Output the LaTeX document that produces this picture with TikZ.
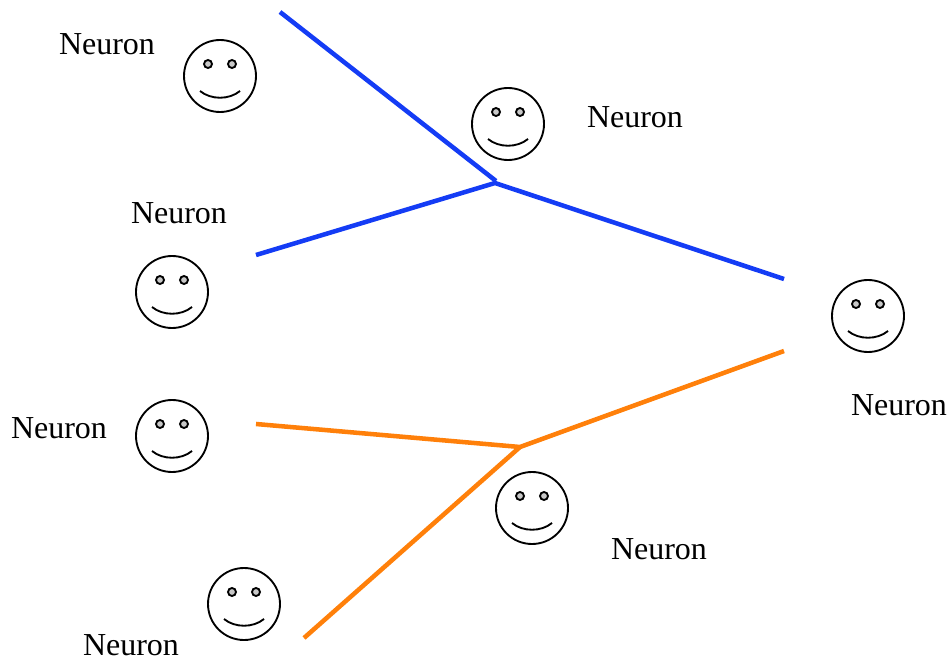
\documentclass[tikz,border=0pt]{standalone}
\usepackage{fontspec}
\setmainfont{Liberation Serif}
\definecolor{wireblue}{RGB}{20,60,245}
\definecolor{wireorange}{RGB}{255,128,10}
\definecolor{eyegray}{RGB}{200,200,200}
\tikzset{x=0.75pt,y=-0.75pt,
 lbl/.style={inner sep=0pt,font=\fontsize{24}{26}\selectfont},
 bluewire/.style={line width=3.4pt,draw=wireblue},
 orangewire/.style={line width=3.4pt,draw=wireorange},
 smile/.pic={
  \draw[line width=1.4pt] (0,0) circle[radius=36];
  \draw[line width=1.4pt,fill=eyegray] (-12,-12) circle[radius=4];
  \draw[line width=1.4pt,fill=eyegray] (12,-12) circle[radius=4];
  \draw[line width=1.4pt] (-20,15) .. controls (-9,24) and (9,24) .. (20,15);
 }}
\begin{document}
\begin{tikzpicture}
\useasboundingbox (0,0) rectangle (949,659);
\pic at (220,76) {smile};
\pic at (508,124) {smile};
\pic at (172,292) {smile};
\pic at (172,436) {smile};
\pic at (868,316) {smile};
\pic at (532,508) {smile};
\pic at (244,604) {smile};
\node[lbl] (n1) at (107,44) {Neuron};
\node[lbl] (n2) at (635,117) {Neuron};
\node[lbl] (n3) at (179,213) {Neuron};
\node[lbl] (n4) at (59,428) {Neuron};
\node[lbl] (n5) at (899,405) {Neuron};
\node[lbl] (n6) at (659,549) {Neuron};
\node[lbl] (n7) at (131,645) {Neuron};
\coordinate (b0) at (280,12);
\coordinate (b1) at (256,255);
\coordinate (bt) at (496,181);
\coordinate (bj) at (495,183);
\coordinate (b2) at (784,279);
\coordinate (o0) at (256,424);
\coordinate (o1) at (304,638);
\coordinate (oj) at (520,447);
\coordinate (o2) at (784,351);
\draw[bluewire] (b0) -- (bt);
\draw[bluewire] (b1) -- (bj) -- (b2);
\draw[orangewire] (o0) -- (oj) -- (o2);
\draw[orangewire] (o1) -- (oj);
\end{tikzpicture}
\end{document}
